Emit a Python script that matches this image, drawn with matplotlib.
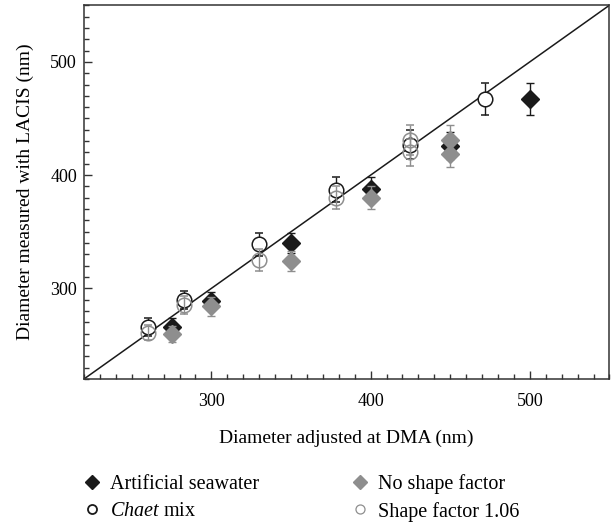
import matplotlib
matplotlib.use("Agg")
import matplotlib.pyplot as plt
from matplotlib.ticker import MultipleLocator, FixedLocator
from matplotlib.lines import Line2D

plt.rcParams['font.family'] = ['Liberation Serif', 'DejaVu Serif']
plt.rcParams['mathtext.fontset'] = 'custom'
plt.rcParams['mathtext.rm'] = 'Liberation Serif'
plt.rcParams['mathtext.it'] = 'Liberation Serif:italic'

# Data
sea_x = [275, 300, 350, 400, 450, 500]
sea_y = [266, 289, 340, 388, 426, 467]
sea_err = [8, 8, 9, 10, 12, 14]

chaet_x = [260, 283, 330, 378, 425, 472]
chaet_y = [266, 290, 339, 387, 427, 467]
chaet_err = [8, 8, 10, 11, 13, 14]

noshape_x = [275, 300, 350, 400, 450, 450]
noshape_y = [260, 284, 324, 380, 431, 419]
noshape_err = [7, 8, 9, 10, 13, 12]

sf_x = [260, 283, 330, 378, 425, 425]
sf_y = [261, 285, 325, 380, 431, 420]
sf_err = [7, 8, 10, 10, 13, 12]

line_x = [220, 550]
xticks = [300, 400, 500]
yticks = [300, 400, 500]

BLACK = '#1a1a1a'
GRAY = '#8e8e8e'

fig = plt.figure(figsize=(6.11, 5.22), dpi=100)
ax = fig.add_axes([0.1375, 0.274, 0.860, 0.716])

ax.plot(line_x, line_x, color=BLACK, lw=1.1, zorder=1)

ek = dict(capsize=3, elinewidth=1.0, capthick=1.0, linestyle='none')
ax.errorbar(sea_x, sea_y, yerr=sea_err, marker='D', ms=9.2, mfc=BLACK, mec=BLACK,
            ecolor=BLACK, zorder=3, **ek)
ax.errorbar(chaet_x, chaet_y, yerr=chaet_err, marker='o', ms=10.5, mfc='white', mec=BLACK,
            mew=1.1, ecolor=BLACK, zorder=3, **ek)
ax.errorbar(noshape_x, noshape_y, yerr=noshape_err, marker='D', ms=9.2, mfc=GRAY, mec=GRAY,
            ecolor=GRAY, zorder=4, **ek)
ax.errorbar(sf_x, sf_y, yerr=sf_err, marker='o', ms=10.5, mfc='none', mec=GRAY,
            mew=1.1, ecolor=GRAY, zorder=4, **ek)

ax.set_xlim(220, 550)
ax.set_ylim(220, 550)
ax.xaxis.set_major_locator(FixedLocator(xticks))
ax.yaxis.set_major_locator(FixedLocator(yticks))
ax.xaxis.set_minor_locator(MultipleLocator(10))
ax.yaxis.set_minor_locator(MultipleLocator(10))
ax.tick_params(which='both', direction='in', top=False, right=False, color='#333333',
               labelsize=13, width=1.0)
ax.tick_params(which='major', length=6)
ax.tick_params(which='minor', length=3.5)
ax.tick_params(axis='x', which='major', pad=10)
ax.tick_params(axis='y', which='major', pad=5)
for s in ax.spines.values():
    s.set_color('#333333')
    s.set_linewidth(1.1)

ax.set_xlabel('Diameter adjusted at DMA (nm)', fontsize=14, labelpad=14)
ax.set_ylabel('Diameter measured with LACIS (nm)', fontsize=14, labelpad=12)

handles = [
    Line2D([], [], marker='D', ls='none', ms=6.8, mfc=BLACK, mec=BLACK),
    Line2D([], [], marker='o', ls='none', ms=6.5, mfc='white', mec=BLACK, mew=1.3),
    Line2D([], [], marker='D', ls='none', ms=6.8, mfc=GRAY, mec=GRAY),
    Line2D([], [], marker='o', ls='none', ms=6.5, mfc='white', mec=GRAY, mew=0.9),
]
labels = ['Artificial seawater', r'$\it{Chaet}$ mix', 'No shape factor', 'Shape factor 1.06']
fig.legend(handles, labels, ncol=2, frameon=False, fontsize=14.5,
           loc='upper left', bbox_to_anchor=(0.118, 0.108), columnspacing=4.4,
           handletextpad=0.3, handlelength=1.2, labelspacing=0.4, borderaxespad=0)

fig.savefig('out.png', dpi=100)
